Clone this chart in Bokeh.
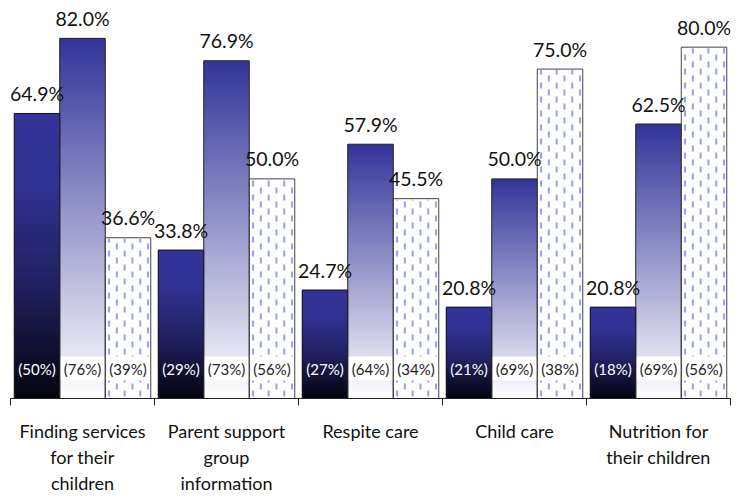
import numpy as np
from bokeh.plotting import figure
from bokeh.models import ColumnDataSource, FixedTicker, Range1d
from bokeh.core.properties import value
from bokeh.embed import file_html
from bokeh.resources import INLINE

categories = ["Finding services\nfor their\nchildren",
              "Parent support\ngroup\ninformation",
              "Respite care",
              "Child care",
              "Nutrition for\ntheir children"]
series_a = [64.9, 33.8, 24.7, 20.8, 20.8]
series_b = [82.0, 76.9, 57.9, 50.0, 62.5]
series_c = [36.6, 50.0, 45.5, 75.0, 80.0]
paren_a = ["(50%)", "(29%)", "(27%)", "(21%)", "(18%)"]
paren_b = ["(76%)", "(73%)", "(64%)", "(69%)", "(69%)"]
paren_c = ["(39%)", "(56%)", "(34%)", "(38%)", "(56%)"]

FONT = "Lato"
BAR_W = 0.316
offsets = [-BAR_W, 0.0, BAR_W]
FRAME_W, FRAME_H = 720, 390
Y_MAX = 88.8
PX_X = FRAME_W / len(categories)   # pixels per x unit
PX_Y = FRAME_H / Y_MAX             # pixels per y unit

p = figure(frame_width=FRAME_W, frame_height=FRAME_H, output_backend="svg",
           toolbar_location=None, x_range=Range1d(-0.5, len(categories) - 0.5),
           y_range=Range1d(0, Y_MAX), min_border_left=10, min_border_right=10,
           min_border_top=8, min_border_bottom=100)
p.outline_line_color = None
p.grid.visible = False
p.yaxis.visible = False
p.background_fill_color = "white"
p.border_fill_color = "white"

idx = np.arange(len(categories))


def interp_color(stops, t):
    # t: 0 at top, 1 at bottom
    for (t0, c0), (t1, c1) in zip(stops[:-1], stops[1:]):
        if t0 <= t <= t1:
            f = (t - t0) / (t1 - t0) if t1 > t0 else 0
            c = [round(a + (b - a) * f) for a, b in zip(c0, c1)]
            return "#%02x%02x%02x" % tuple(c)
    return "#%02x%02x%02x" % tuple(stops[-1][1])


def gradient_bars(xs, vals, stops, n=90):
    d = dict(left=[], right=[], bottom=[], top=[], color=[])
    ov = 1.2 / PX_Y
    for x, v in zip(xs, vals):
        for k in range(n):
            d["left"].append(x - BAR_W / 2)
            d["right"].append(x + BAR_W / 2)
            d["bottom"].append(v * k / n)
            d["top"].append(min(v, v * (k + 1) / n + ov))
            d["color"].append(interp_color(stops, 1 - (k + 0.5) / n))
    p.quad(left="left", right="right", bottom="bottom", top="top",
           fill_color="color", line_color=None, source=ColumnDataSource(d))


stops_a = [(0.0, (51, 51, 153)), (0.25, (49, 49, 146)), (0.6, (32, 32, 96)), (1.0, (4, 4, 14))]
stops_b = [(0.0, (51, 51, 153)), (1.0, (255, 255, 255))]

xa = idx + offsets[0]
xb = idx + offsets[1]
xc = idx + offsets[2]

gradient_bars(xa, series_a, stops_a)
gradient_bars(xb, series_b, stops_b)

# dashed pattern bars
p.vbar(x=xc, top=series_c, width=BAR_W, fill_color="white", line_color=None)
seg = dict(x0=[], y0=[], x1=[], y1=[])
period, dash, col_step, col_start = 14.0, 6.0, 7.8, 3.8
for x, v in zip(xc, series_c):
    left = x - BAR_W / 2
    top_px = v * PX_Y
    for k in range(6):
        cx = left + (col_start + col_step * k) / PX_X
        y = 2.0 + (period / 2 if k % 2 else 0.0)
        while y < top_px - 1:
            y_end = min(y + dash, top_px - 1)
            seg["x0"].append(cx)
            seg["x1"].append(cx)
            seg["y0"].append(y / PX_Y)
            seg["y1"].append(y_end / PX_Y)
            y += period
p.segment(x0="x0", y0="y0", x1="x1", y1="y1", source=ColumnDataSource(seg),
          line_color="#9a9aff", line_width=2, line_cap="butt")

p.vbar(x=xa, top=series_a, width=BAR_W, fill_color=None, line_color="#111111", line_width=1)
p.vbar(x=xb, top=series_b, width=BAR_W, fill_color=None, line_color="#222222", line_width=1)
p.vbar(x=xc, top=series_c, width=BAR_W, fill_color=None, line_color="#444444", line_width=1)

# value labels above bars
for xs, vals in ((xa, series_a), (xb, series_b), (xc, series_c)):
    src = ColumnDataSource(dict(x=xs, y=vals, t=["%.1f%%" % v for v in vals]))
    p.text(x="x", y="y", text="t", source=src, text_align="center",
           text_baseline="alphabetic", y_offset=-20, text_font=value(FONT),
           text_font_size="19.5px", text_color="#111111")

# parenthesised labels near the base
src_a = ColumnDataSource(dict(x=xa, y=[0] * 5, t=paren_a))
p.text(x="x", y="y", text="t", source=src_a, text_align="center",
       text_baseline="middle", y_offset=-30, text_font=value(FONT),
       text_font_size="15px", text_color="white")
for xs, labs in ((xb, paren_b), (xc, paren_c)):
    src = ColumnDataSource(dict(x=xs, y=[0] * 5, t=labs))
    p.text(x="x", y="y", text="t", source=src, text_align="center",
           text_baseline="middle", y_offset=-30, text_font=value(FONT),
           text_font_size="15px", text_color="#222222",
           background_fill_color="white", padding=3)

ax = p.xaxis[0]
ax.ticker = FixedTicker(ticks=list(idx), minor_ticks=[i - 0.5 for i in range(len(categories) + 1)])
ax.major_label_overrides = {int(i): c for i, c in zip(idx, categories)}
ax.major_tick_out = 0
ax.major_tick_in = 0
ax.minor_tick_out = 7
ax.minor_tick_in = 0
ax.minor_tick_line_color = "#222222"
ax.axis_line_color = "#222222"
ax.axis_line_width = 1
ax.major_label_standoff = 14
ax.major_label_text_font = FONT
ax.major_label_text_font_size = "18px"
ax.major_label_text_color = "#111111"
ax.major_label_text_line_height = 1.2

open("out.html", "w").write(file_html(p, INLINE))
